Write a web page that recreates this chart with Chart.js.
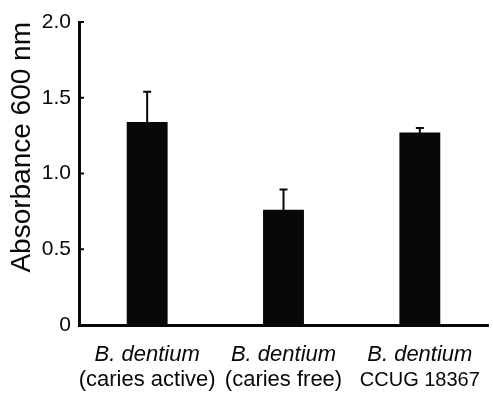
<!DOCTYPE html>
<html>
<head>
<meta charset="utf-8">
<script src="https://cdn.jsdelivr.net/npm/chart.js@4"></script>
<style>
  html, body { margin: 0; padding: 0; background: #fff; }
  #wrap { width: 493px; height: 394px; }
</style>
</head>
<body>
<div id="wrap"><canvas id="chart1"></canvas></div>
<script>
// data
const strains = ["B. dentium", "B. dentium", "B. dentium"];
const subLabels = ["(caries active)", "(caries free)", "CCUG 18367"];
const absorbance = [1.34, 0.76, 1.27];
const errors = [0.20, 0.135, 0.03];
const yTicks = [0, 0.5, 1.0, 1.5, 2.0];

const ink = '#080808';
const font = "'Liberation Sans', Arial, sans-serif";

// error bars (upper + lower whisker) drawn over the bars
const errorBars = {
    id: 'errorBars',
    afterDatasetsDraw(chart) {
        const ctx = chart.ctx;
        const x = chart.scales.x, y = chart.scales.y;
        ctx.save();
        ctx.strokeStyle = ink;
        ctx.lineWidth = 2;
        absorbance.forEach((v, i) => {
            const cx = x.getPixelForValue(i);
            const top = y.getPixelForValue(v + errors[i]);
            const bot = y.getPixelForValue(v - errors[i]);
            ctx.beginPath();
            ctx.moveTo(cx, bot);
            ctx.lineTo(cx, top);
            ctx.moveTo(cx - 4, top);
            ctx.lineTo(cx + 4, top);
            ctx.stroke();
        });
        ctx.restore();
    }
};

// inward tick marks on the y axis + the two-line category labels
const axisExtras = {
    id: 'axisExtras',
    afterDraw(chart) {
        const ctx = chart.ctx;
        const x = chart.scales.x, y = chart.scales.y;
        ctx.save();
        ctx.strokeStyle = ink;
        ctx.lineWidth = 2;
        yTicks.forEach(t => {
            if (t === 0) return;
            const py = y.getPixelForValue(t);
            ctx.beginPath();
            ctx.moveTo(x.left, py);
            ctx.lineTo(x.left + 5, py);
            ctx.stroke();
        });
        ctx.fillStyle = ink;
        ctx.textAlign = 'center';
        ctx.textBaseline = 'middle';
        strains.forEach((s, i) => {
            const cx = x.getPixelForValue(i);
            ctx.font = "italic 22px " + font;
            ctx.fillText(s, cx, y.bottom + 30);
            ctx.font = (i === 2 ? "20px " : "22px ") + font;
            ctx.fillText(subLabels[i], cx, y.bottom + 55);
        });
        ctx.restore();
    }
};

const ctx1 = document.getElementById('chart1').getContext('2d');
let chart1 = new Chart(ctx1, {
    type: 'bar',
    data: {
        labels: subLabels,
        datasets: [{
            label: 'Absorbance 600 nm',
            data: absorbance,
            backgroundColor: ink,
            borderWidth: 0,
            categoryPercentage: 1,
            barPercentage: 0.3
        }]
    },
    options: {
        responsive: true,
        maintainAspectRatio: false,
        animation: false,
        layout: { padding: { top: 22, right: 5, left: 0, bottom: 0 } },
        plugins: {
            legend: { display: false },
            tooltip: { enabled: false }
        },
        scales: {
            x: {
                grid: { display: false, drawTicks: false },
                border: { display: true, color: ink, width: 3 },
                ticks: { display: false },
                afterFit: s => { s.height = 69; }
            },
            y: {
                min: 0,
                max: 2,
                grid: { display: false, drawTicks: false },
                border: { display: true, color: ink, width: 3 },
                afterBuildTicks: s => { s.ticks = yTicks.map(v => ({ value: v })); },
                ticks: {
                    color: ink,
                    padding: 8,
                    font: { family: font, size: 21 },
                    callback: v => v === 0 ? '0' : v.toFixed(1)
                },
                title: {
                    display: true,
                    text: 'Absorbance 600 nm',
                    align: 'end',
                    color: ink,
                    font: { family: font, size: 28 },
                    padding: { top: 5, bottom: 0 }
                },
                afterFit: s => { s.width = 79; }
            }
        }
    },
    plugins: [errorBars, axisExtras]
});
</script>
</body>
</html>
